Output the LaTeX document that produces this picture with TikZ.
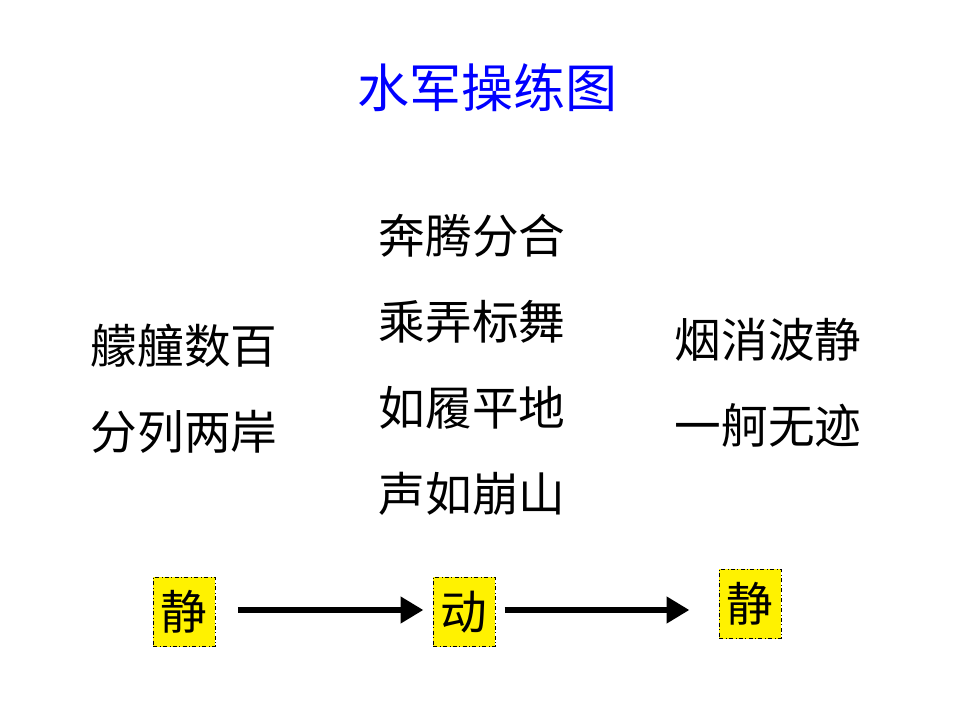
\documentclass[tikz,border=0pt]{standalone}
\usepackage{fontspec}
\newfontfamily\cjk{Noto Sans CJK SC}
\usetikzlibrary{positioning, arrows.meta}
\tikzset{
  title/.style={font=\cjk\fontsize{39}{44}\selectfont, text=blue},
  verse/.style={font=\cjk\fontsize{35}{40}\selectfont, inner sep=0pt},
  state/.style={rectangle, draw=black, dash dot, thin, fill=yellow, inner sep=4pt, minimum width=46.5pt, minimum height=52pt, font=\cjk\fontsize{35}{40}\selectfont},
  arrow/.style={line width=5pt, -{Triangle[length=17pt, width=19pt]}}
}
\begin{document}
\begin{tikzpicture}[x=0.75pt, y=-0.75pt]
\useasboundingbox (0,0) rectangle (960,720);
\node (title) [title] at (487,88) {水军操练图};

\node (l1) [verse] at (184,346) {艨艟数百};
\node (l2) [verse] at (184,432) {分列两岸};

\node (m1) [verse] at (472,236) {奔腾分合};
\node (m2) [verse] at (472,322) {乘弄标舞};
\node (m3) [verse] at (472,408) {如履平地};
\node (m4) [verse] at (472,494) {声如崩山};

\node (r1) [verse] at (768,340) {烟消波静};
\node (r2) [verse] at (768,425) {一舸无迹};

\node (calm1) [state] at (184,612) {静};
\node (move) [state] at (464,612) {动};
\node (calm2) [state] at (750,604) {静};

\draw[arrow] ([xshift=17pt]calm1.east |- 0,610) -- ([xshift=-7pt]move.west |- 0,610);
\draw[arrow] ([xshift=7pt]move.east |- 0,610) -- ([xshift=-22pt]calm2.west |- 0,610);
\end{tikzpicture}
\end{document}
